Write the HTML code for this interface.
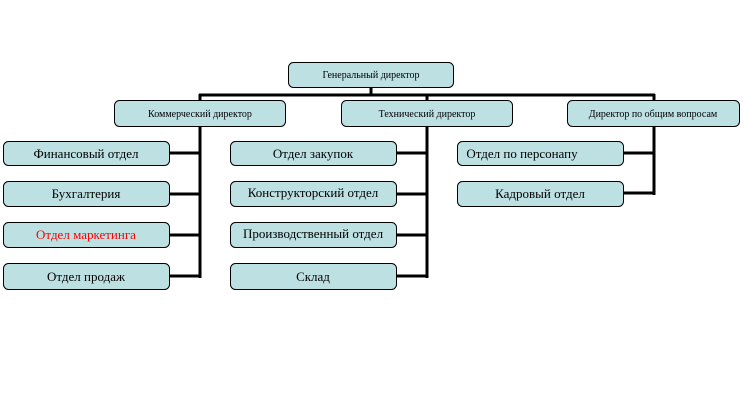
<!DOCTYPE html>
<html><head><meta charset="utf-8"><style>
html,body{margin:0;padding:0;background:#fff;width:751px;height:420px;overflow:hidden}
svg{display:block}
text{font-family:"Liberation Serif","DejaVu Serif",serif;fill:#000}
.s{font-size:10px}.b{font-size:13px}
rect{fill:#bde0e3;stroke:#000;stroke-width:1}
</style></head><body>
<svg width="751" height="420" xmlns="http://www.w3.org/2000/svg">
<g stroke="#000" stroke-width="3" fill="none">
<line x1="371" y1="87" x2="371" y2="95"/>
<line x1="199" y1="95" x2="655" y2="95"/>
<line x1="200" y1="94" x2="200" y2="278"/>
<line x1="427" y1="94" x2="427" y2="278"/>
<line x1="654" y1="94" x2="654" y2="195"/>
<line x1="169" y1="153" x2="200" y2="153"/>
<line x1="169" y1="194" x2="200" y2="194"/>
<line x1="169" y1="235" x2="200" y2="235"/>
<line x1="169" y1="276" x2="200" y2="276"/>
<line x1="396" y1="153" x2="427" y2="153"/>
<line x1="396" y1="194" x2="427" y2="194"/>
<line x1="396" y1="235" x2="427" y2="235"/>
<line x1="396" y1="276" x2="427" y2="276"/>
<line x1="623" y1="153" x2="654" y2="153"/>
<line x1="623" y1="193" x2="654" y2="193"/>
</g>
<rect x="288.5" y="62.5" width="165" height="25" rx="5"/>
<text class="s" x="371" y="78" text-anchor="middle">Генеральный директор</text>
<rect x="114.5" y="100.5" width="171" height="26" rx="5"/>
<text class="s" x="200" y="117" text-anchor="middle">Коммерческий директор</text>
<rect x="341.5" y="100.5" width="171" height="26" rx="5"/>
<text class="s" x="427" y="117" text-anchor="middle">Технический директор</text>
<rect x="567.5" y="100.5" width="172" height="26" rx="5"/>
<text class="s" x="653" y="117" text-anchor="middle">Директор по общим вопросам</text>

<rect x="3.5" y="141.5" width="166" height="24" rx="5"/>
<text class="b" x="86" y="158" text-anchor="middle">Финансовый отдел</text>
<rect x="3.5" y="181.5" width="166" height="25" rx="5"/>
<text class="b" x="86" y="198" text-anchor="middle">Бухгалтерия</text>
<rect x="3.5" y="222.5" width="166" height="25" rx="5"/>
<text class="b" x="86" y="239" text-anchor="middle" style="fill:#f00">Отдел маркетинга</text>
<rect x="3.5" y="263.5" width="166" height="26" rx="5"/>
<text class="b" x="86" y="281" text-anchor="middle">Отдел продаж</text>

<rect x="230.5" y="141.5" width="166" height="24" rx="5"/>
<text class="b" x="313" y="158" text-anchor="middle">Отдел закупок</text>
<rect x="230.5" y="181.5" width="166" height="25" rx="5"/>
<text class="b" x="313" y="197" text-anchor="middle">Конструкторский отдел</text>
<rect x="230.5" y="222.5" width="166" height="25" rx="5"/>
<text class="b" x="313" y="238" text-anchor="middle">Производственный отдел</text>
<rect x="230.5" y="263.5" width="166" height="26" rx="5"/>
<text class="b" x="313" y="281" text-anchor="middle">Склад</text>

<rect x="457.5" y="141.5" width="166" height="24" rx="5"/>
<text class="b" x="522" y="158" text-anchor="middle">Отдел по персонапу</text>
<rect x="457.5" y="181.5" width="166" height="25" rx="5"/>
<text class="b" x="540" y="198" text-anchor="middle">Кадровый отдел</text>
</svg>
</body></html>
